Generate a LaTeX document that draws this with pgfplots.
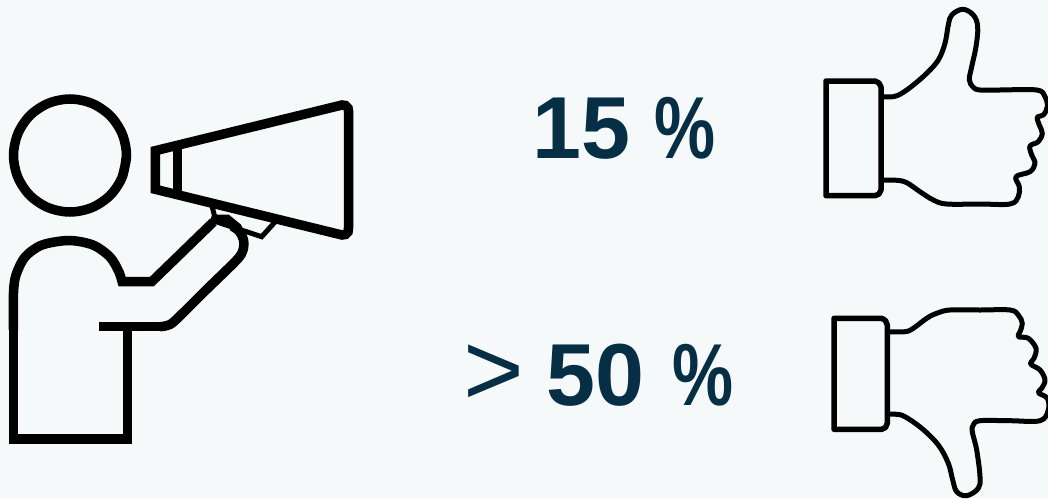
\documentclass[border=0pt]{standalone}
\usepackage{fontspec}
\setmainfont{Liberation Sans}
\usepackage{graphicx}
\usepackage{pgfplots}
\pgfplotsset{compat=1.18}
\definecolor{pagebg}{HTML}{F6F9FA}
\definecolor{txt}{HTML}{062E44}
\newcommand{\pct}{\scalebox{0.78}[1]{\%}}
\begin{document}
\begin{tikzpicture}[x=1bp,y=1bp]
\begin{axis}[
    scale only axis,
    width=1048bp,
    height=498bp,
    xmin=0, xmax=1048,
    ymin=0, ymax=498,
    y dir=reverse,
    axis lines=none,
    ticks=none,
    clip=true,
    person/.style={black,line width=9.5bp,line join=miter,mark=none},
    thumb/.style={black,line width=5bp,line join=round,mark=none},
]
% background
\addplot[draw=none,fill=pagebg,mark=none] coordinates {(0,0) (1048,0) (1048,498) (0,498)} -- cycle;

% head
\addplot[person,smooth,tension=0.55] coordinates {
 (126.5,155.5) (122.2,177.1) (110,195.5) (91.6,207.7) (70,212) (48.4,207.7) (30,195.5) (17.8,177.1)
 (13.5,155.5) (17.8,133.9) (30,115.5) (48.4,103.3) (70,99) (91.6,103.3) (110,115.5) (122.2,133.9)
 (126.5,155.5) (122.2,177.1)
};
% body, left and top
\addplot[person,smooth,tension=0.5] coordinates {
 (13.5,330) (13.5,293) (16,275) (25,257) (42,245) (69,240.5) (93,245) (110,257) (119,272) (123,285)
};
\addplot[person] coordinates {
 (13.5,300) (13.5,439) (127.5,439) (127.5,326)
};
% upper arm edge
\addplot[person] coordinates {(119,281.7) (151.7,281.7) (213.3,222)};
% lower arm edge
\addplot[person,line cap=butt] coordinates {(99,326.7) (163,326.7)};
\addplot[person,smooth,tension=0.5] coordinates {
 (160,326.7) (167,325.5) (175,320.7) (205,291) (236.7,260) (243,250) (243.5,240) (239,231) (232,226)
};
% grip of the hand
\addplot[black,line width=9bp,mark=none,line cap=round] coordinates {(215,219) (227,219) (238,228)};
% megaphone handle
\addplot[black,line width=5bp,line join=miter,mark=none] coordinates {
 (212,206) (216,221.7) (261.7,236.7) (275,222)
};
% megaphone cone
\addplot[person] coordinates {
 (155.3,150.7) (155.3,189.3) (342,235) (345.5,234.5) (348,232) (348.5,228) (348.5,111) (348,108)
 (345.5,105.5) (342,105) (155.3,150.7) (155.3,189.3)
};
\addplot[person] coordinates {(177.7,145) (177.7,194)};

% thumb up, cuff
\addplot[thumb,line width=5.5bp] coordinates {
 (826,81) (826,195.7) (875,195.7) (879,194) (881,190) (881,87) (879,83) (875,81) (826,81) (826,195.7)
};
% thumb up, hand
\addplot[thumb,smooth,tension=0.6] coordinates {
 (881,96.7) (893.3,96.7) (901.7,93.3) (913.3,85) (926.7,73.3) (938.3,60) (945,43.3) (948.3,25) (951.7,15)
 (962.7,9.3) (973.3,15) (977.7,26.7) (976,46.7) (971.7,66.7) (969.3,80) (973.3,87.3) (980,90)
 (1000,90) (1036.7,90) (1045,96.7) (1047.3,106.7) (1043.3,115) (1037.3,117.3) (1039.3,125) (1042.3,133.3)
 (1038.3,141.7) (1030,146) (1031.7,155) (1035,163.3) (1030,171.7) (1016,176.7) (1019.3,186.7) (1018.3,196.7)
 (1010,204) (980,204) (946.7,204) (933.3,200) (920,191.7) (906.7,182.7) (896.7,180.3) (881,180.3)
};

% thumb down, cuff
\addplot[thumb,line width=5.5bp] coordinates {
 (834,318.3) (834,429.3) (881.7,429.3) (885.5,427.5) (887.3,423.3) (887.3,325) (885.5,320.5) (881.7,318.3) (834,318.3) (834,429.3)
};
% thumb down, hand
\addplot[thumb,smooth,tension=0.6] coordinates {
 (887.3,331.7) (905,331.7) (913.3,328.3) (926.7,318.3) (936.7,313.3) (950,310) (980,310) (1010,310)
 (1018.3,315) (1022.3,323.3) (1020,331.7) (1018.3,336.7) (1028.3,338.3) (1036,348.3) (1034,358.3) (1030.7,364)
 (1040,370) (1045,380) (1041.7,388.3) (1038.3,392.7) (1047.3,398.3) (1048.3,410) (1040,420.7) (1010,420.7)
 (980,420.7) (973.3,425) (972.3,431.7) (976.7,450) (980,476.7) (978.3,488.3) (966.7,495.7) (956.7,491.7)
 (952.7,480) (948.3,463.3) (938.3,445) (921.7,428.3) (905,416.7) (896.7,414.3) (887.3,414.3)
};

% texts
\node[anchor=base west,text=txt,font=\fontsize{88bp}{88bp}\selectfont\bfseries,inner sep=0pt] at (axis cs:532,158.3) {15\hspace{24bp}\pct};
\node[anchor=base west,text=txt,font=\fontsize{88bp}{88bp}\selectfont\bfseries,inner sep=0pt] at (axis cs:463,405) {{\fontsize{104bp}{104bp}\selectfont\mdseries >}\hspace{23bp}50\hspace{28bp}\pct};
\end{axis}
\end{tikzpicture}
\end{document}
